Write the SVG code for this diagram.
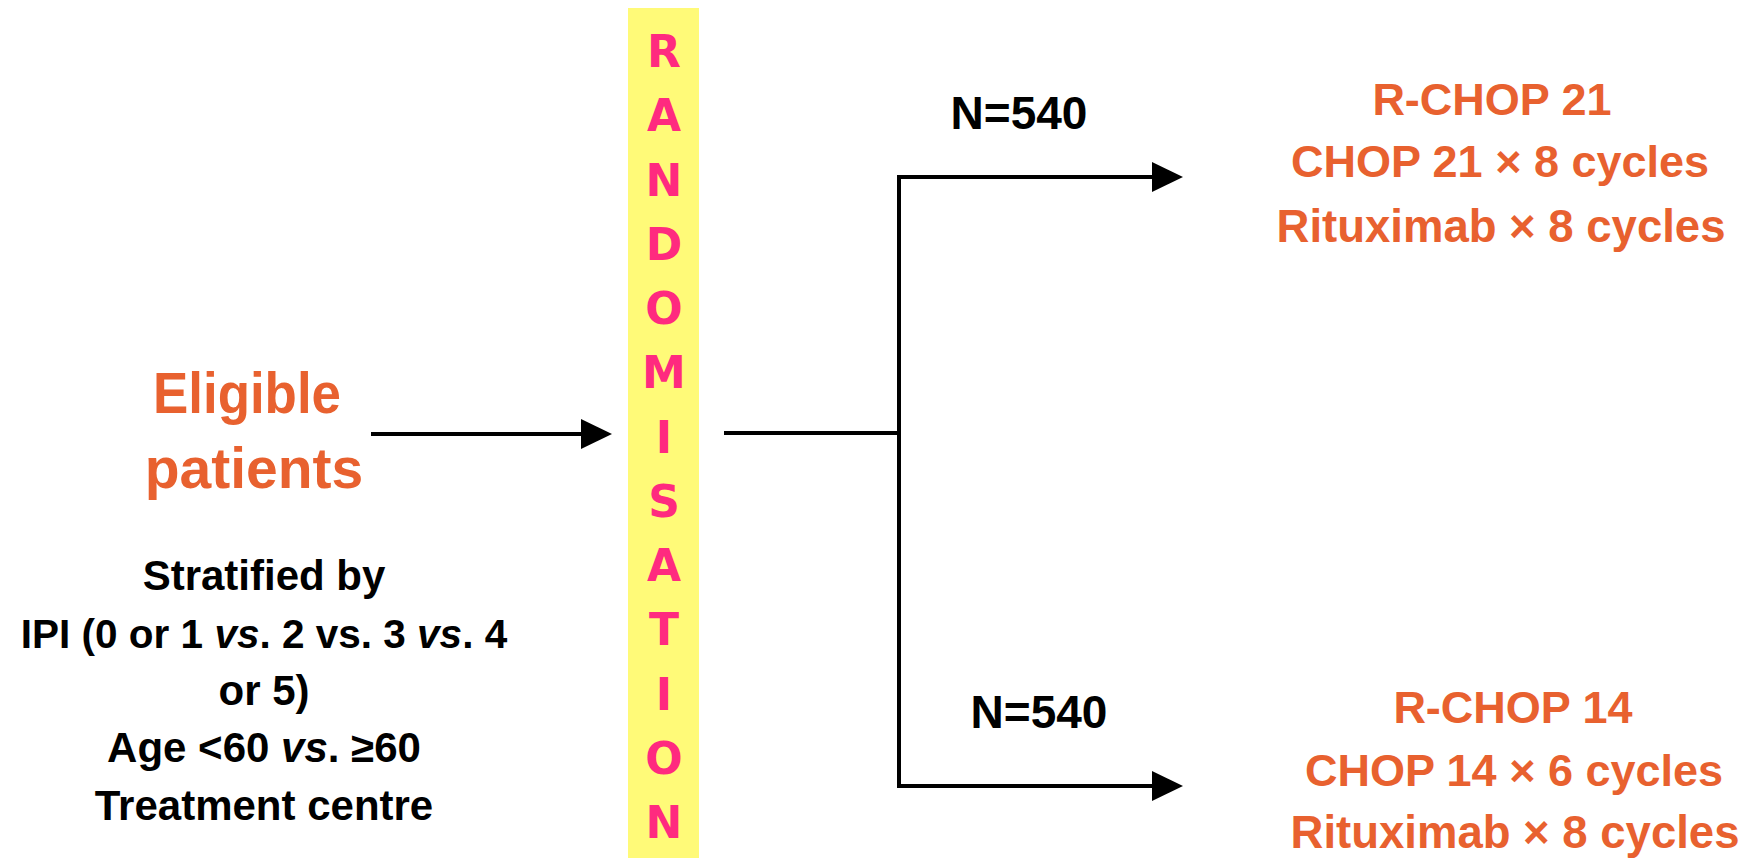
<svg xmlns="http://www.w3.org/2000/svg" width="1753" height="858" viewBox="0 0 1753 858">
<style>
.or{font-family:"Liberation Sans",Arial,sans-serif;font-weight:bold;fill:#E8612F;text-anchor:middle}
.bk{font-family:"Liberation Sans",Arial,sans-serif;font-weight:bold;fill:#000;text-anchor:middle}
.rnd{font-family:"DejaVu Sans",Verdana,sans-serif;font-weight:bold;fill:#FF2A7F;text-anchor:middle;font-size:44px}
.ln{fill:none;stroke:#000;stroke-width:4;stroke-linejoin:miter}
</style>
<defs>
<marker id="ah" markerUnits="userSpaceOnUse" markerWidth="31" markerHeight="31" viewBox="0 0 31 31" refX="0" refY="15.5" orient="auto">
<path d="M0,0.5 L31,15.5 L0,30.5 z" fill="#000"/>
</marker>
</defs>
<rect width="1753" height="858" fill="#fff"/>
<g id="randomisation">
<rect x="628" y="8" width="71" height="850" fill="#FFFA78"/>
<text class="rnd" x="664" y="67">R</text>
<text class="rnd" x="664" y="131">A</text>
<text class="rnd" x="664" y="196">N</text>
<text class="rnd" x="664" y="260">D</text>
<text class="rnd" x="664" y="324">O</text>
<text class="rnd" x="664" y="388">M</text>
<text class="rnd" x="664" y="453">I</text>
<text class="rnd" x="664" y="517">S</text>
<text class="rnd" x="664" y="581">A</text>
<text class="rnd" x="664" y="645">T</text>
<text class="rnd" x="664" y="710">I</text>
<text class="rnd" x="664" y="774">O</text>
<text class="rnd" x="664" y="838">N</text>
</g>
<g id="eligible">
<text class="or" font-size="57" x="247" y="413" textLength="188" lengthAdjust="spacingAndGlyphs">Eligible</text>
<text class="or" font-size="57" x="254" y="488">patients</text>
</g>
<g id="stratified">
<text class="bk" font-size="42" x="264" y="590">Stratified by</text>
<text class="bk" font-size="40.5" x="264" y="648">IPI (0 or 1 <tspan font-style="italic">vs</tspan>. 2 vs. 3 <tspan font-style="italic">vs</tspan>. 4</text>
<text class="bk" font-size="42" x="264" y="705">or 5)</text>
<text class="bk" font-size="42" x="264" y="762">Age &lt;60 <tspan font-style="italic">vs</tspan>. ≥60</text>
<text class="bk" font-size="42" x="264" y="820">Treatment centre</text>
</g>
<g id="arm1">
<text class="or" font-size="45" x="1492" y="115">R-CHOP 21</text>
<text class="or" font-size="45" x="1500" y="177">CHOP 21 × 8 cycles</text>
<text class="or" font-size="45.5" x="1501" y="242">Rituximab × 8 cycles</text>
</g>
<g id="arm2">
<text class="or" font-size="45" x="1513" y="723">R-CHOP 14</text>
<text class="or" font-size="45" x="1514" y="786">CHOP 14 × 6 cycles</text>
<text class="or" font-size="45.5" x="1515" y="848">Rituximab × 8 cycles</text>
</g>
<g id="labels">
<text class="bk" font-size="46" x="1019" y="129">N=540</text>
<text class="bk" font-size="46" x="1039" y="728">N=540</text>
</g>
<g id="connectors">
<path class="ln" d="M371,434 L581,434" marker-end="url(#ah)"/>
<path class="ln" d="M724,433 L899,433"/>
<path class="ln" d="M899,433 L899,177 L1152,177" marker-end="url(#ah)"/>
<path class="ln" d="M899,433 L899,786 L1152,786" marker-end="url(#ah)"/>
</g>
</svg>
